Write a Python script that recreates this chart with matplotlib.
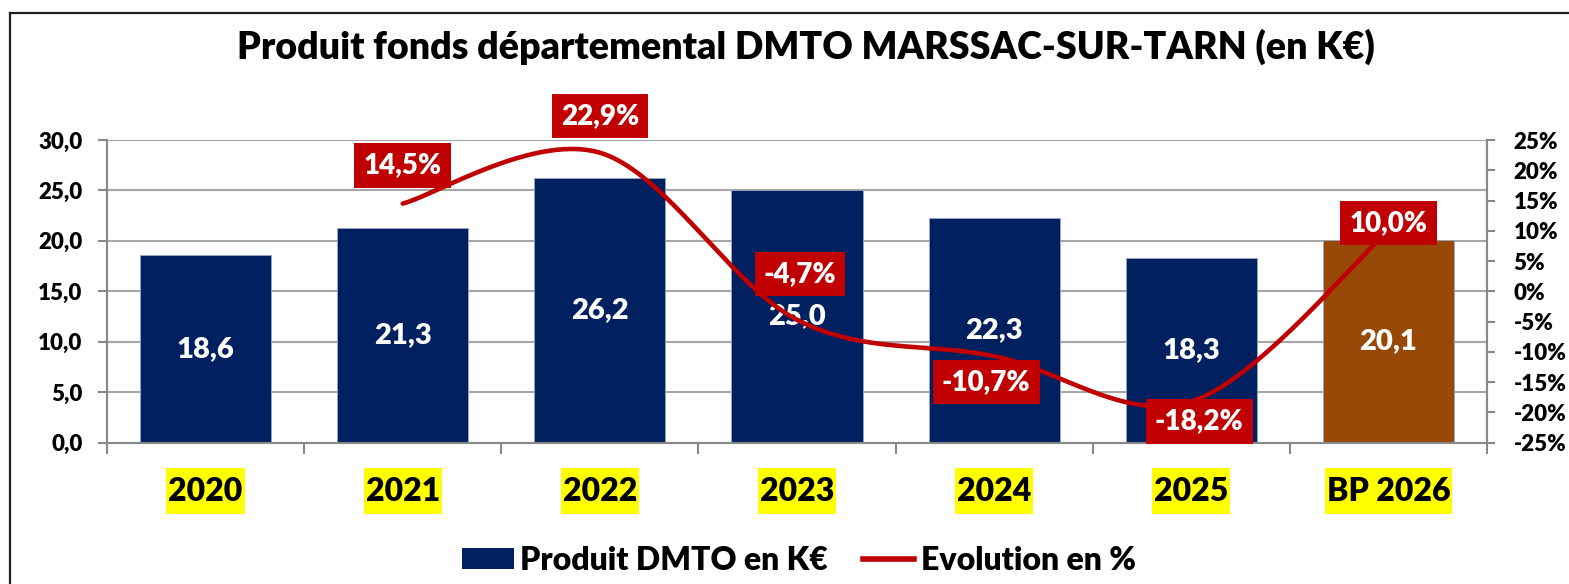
import numpy as np
import matplotlib
matplotlib.use("Agg")
import matplotlib.pyplot as plt
from matplotlib.lines import Line2D
from matplotlib.patches import Patch, Rectangle

plt.rcParams['font.family'] = ['Lato', 'DejaVu Sans']
plt.rcParams['font.weight'] = 'heavy'

# Data
years = ['2020', '2021', '2022', '2023', '2024', '2025', 'BP 2026']
produit = [18.6, 21.3, 26.2, 25.0, 22.3, 18.3, 20.1]
evol_years = ['2021', '2022', '2023', '2024', '2025', 'BP 2026']
evolution = [14.5, 22.9, -4.7, -10.7, -18.2, 10.0]

NAVY = '#002060'
BROWN = '#984807'
RED = '#C00000'
GRID = '#A6A6A6'
AXIS = '#888888'
bar_colors = [NAVY] * 6 + [BROWN]

# label offsets (pixels) for the % boxes, relative to each point
label_offsets = [(0, 38), (0, 37), (3, 46), (-8, -26), (8, -20), (0, 8)]

W, H = 1569, 584
fig = plt.figure(figsize=(W / 100, H / 100), dpi=100)

x0, x1, ytop, ybot = 107, 1487, 140, 442.7
ax = fig.add_axes([x0 / W, 1 - ybot / H, (x1 - x0) / W, (ybot - ytop) / H])

x = np.arange(len(years))
ax.bar(x, produit, width=0.665, color=bar_colors, edgecolor='#9AA8C8', linewidth=0.6, zorder=2)
ax.set_xlim(-0.5, len(years) - 0.5)
ax.set_ylim(0, 30)
ax.set_yticks(np.arange(0, 31, 5))
ax.set_yticklabels([f"{v:.1f}".replace('.', ',') for v in np.arange(0, 31, 5)])
ax.yaxis.grid(True, color=GRID, linewidth=1.5, zorder=0)
ax.set_axisbelow(True)

for i, v in enumerate(produit):
    ax.text(i, v / 2, f"{v:.1f}".replace('.', ','), ha='center', va='center',
            color='white', fontsize=21, zorder=3)

# x axis: ticks at category boundaries, year labels in yellow boxes
ax.set_xticks(np.arange(-0.5, len(years), 1))
ax.set_xticklabels([])
ax.tick_params(axis='x', direction='out', length=8, width=1.5, color=AXIS)
ax.tick_params(axis='y', direction='out', length=6.5, width=1.5, color=AXIS,
               labelsize=16, pad=11)
year_texts = []
for i, yr in enumerate(years):
    year_texts.append(ax.text(i, -0.16, yr, transform=ax.get_xaxis_transform(),
                              ha='center', va='center', fontsize=23, color='black', zorder=4))

for s in ['left', 'bottom', 'right']:
    ax.spines[s].set_color(AXIS)
    ax.spines[s].set_linewidth(1.5)
ax.spines['top'].set_visible(False)

# secondary axis: evolution, smoothed like Excel
ax2 = ax.twinx()
ax2.set_ylim(-25, 25)
ax2.set_yticks(np.arange(-25, 26, 5))
ax2.set_yticklabels([f"{v}%" for v in np.arange(-25, 26, 5)])
ax2.tick_params(axis='y', direction='out', length=6, width=1.5, color=AXIS,
                labelsize=16, pad=13)
for s in ['left', 'bottom', 'top']:
    ax2.spines[s].set_visible(False)
ax2.spines['right'].set_color(AXIS)
ax2.spines['right'].set_linewidth(1.5)

ex = np.array([years.index(y) for y in evol_years], dtype=float)
ey = np.array(evolution)
P = np.column_stack([ex, ey])
Pp = np.vstack([P[0], P, P[-1]])
t = np.linspace(0, 1, 60)[:, None]
pts = []
for k in range(len(P) - 1):
    p0, p1, p2, p3 = Pp[k], Pp[k + 1], Pp[k + 2], Pp[k + 3]
    c1 = p1 + (p2 - p0) / 6
    c2 = p2 - (p3 - p1) / 6
    seg = (1 - t) ** 3 * p1 + 3 * (1 - t) ** 2 * t * c1 + 3 * (1 - t) * t ** 2 * c2 + t ** 3 * p2
    pts.append(seg)
curve = np.vstack(pts)
ax2.plot(curve[:, 0], curve[:, 1], color=RED, linewidth=3.3, solid_capstyle='round', zorder=3)

for (xi, yi), (dx, dy) in zip(zip(ex, ey), label_offsets):
    ax2.annotate(f"{yi:.1f}%".replace('.', ','), (xi, yi), xytext=(dx, dy),
                 textcoords='offset pixels', ha='center', va='center',
                 color='white', fontsize=20, zorder=5,
                 bbox=dict(boxstyle='square,pad=0.33', facecolor=RED, edgecolor='none'))

# title
fig.text(806 / W, 1 - 47 / H, "Produit fonds départemental DMTO MARSSAC-SUR-TARN (en K€)",
         ha='center', va='center', fontsize=27, color='black')

# legend
handles = [Patch(facecolor=NAVY, edgecolor='none', label='Produit DMTO en K€'),
           Line2D([0], [0], color=RED, linewidth=4, label='Evolution en %')]
fig.legend(handles=handles, loc='center', bbox_to_anchor=(799 / W, 1 - 560 / H), ncol=2,
           frameon=False, fontsize=23, handlelength=1.6, handleheight=0.66,
           handletextpad=0.2, columnspacing=1.1, borderpad=0)

# outer chart frame
fig.add_artist(Line2D([10 / W, 1], [1 - 13 / H, 1 - 13 / H], color='#222222', linewidth=1.6,
                      transform=fig.transFigure))
fig.add_artist(Line2D([10 / W, 10 / W], [0, 1 - 13 / H], color='#222222', linewidth=1.6,
                      transform=fig.transFigure))

# yellow highlight behind the year labels (tight sideways, tall)
fig.canvas.draw()
r = fig.canvas.get_renderer()
for txt in year_texts:
    bb = txt.get_window_extent(r)
    cy = (bb.y0 + bb.y1) / 2
    fig.add_artist(Rectangle((bb.x0 - 2, cy - 23), bb.width + 4, 46, transform=None,
                             facecolor='#FFFF00', edgecolor='none', zorder=0))

fig.savefig('out.png', dpi=100, facecolor='white')
